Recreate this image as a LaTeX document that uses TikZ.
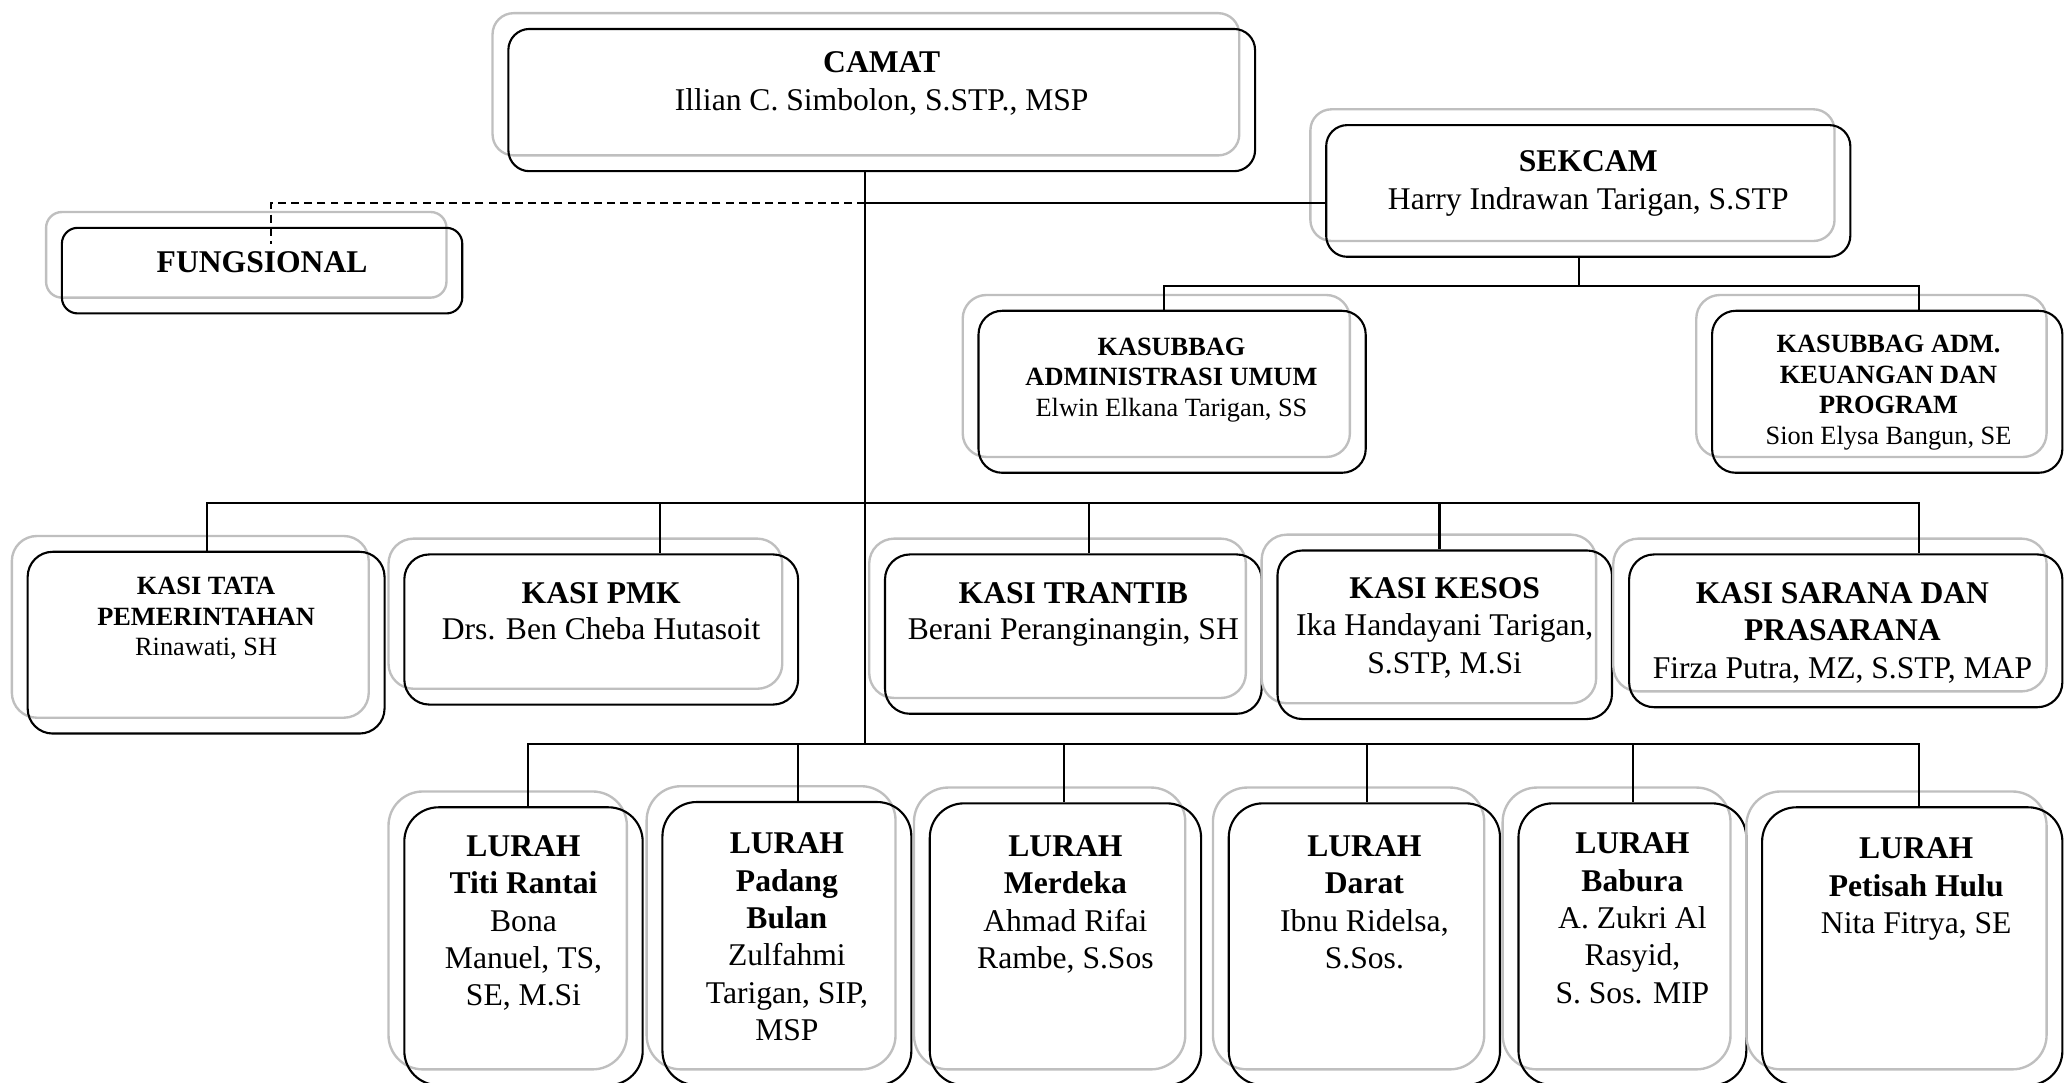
\documentclass[tikz,border=0pt]{standalone}
\usepackage{fontspec}
\setmainfont{Liberation Serif}
\usetikzlibrary{fit}
\tikzset{
  orgbox/.style={draw=black, line width=0.8pt, inner sep=0pt},
  shadebox/.style={draw=black!25, line width=0.9pt},
  conn/.style={draw=black, line width=0.8pt},
  dashconn/.style={draw=black, line width=0.8pt, dash pattern=on 3pt off 2pt},
  tbig/.style={anchor=north, align=center, inner sep=0pt, font=\fontsize{12}{14.2}\selectfont},
  tsmall/.style={anchor=north, align=center, inner sep=0pt, font=\fontsize{10}{11.6}\selectfont},
}
% name, x1, y1, x2, y2, corner radius
\newcommand\obox[6]{%
  \draw[shadebox, rounded corners=#6] ({#2-12},{#3-12}) rectangle ({#4-12},{#5-12});
  \node[orgbox, rounded corners=#6, fit={(#2,#3) (#4,#5)}] (#1) {};
}
\begin{document}
\begin{tikzpicture}[x=0.5pt, y=-0.5pt]
\useasboundingbox (0,0) rectangle (1568,822);
\clip (0,0) rectangle (1568,822);

% boxes
\obox{camat}{386}{22}{953}{130}{8pt}
\obox{sekcam}{1007}{95}{1405}{195}{8pt}
\obox{fung}{47}{173}{351}{238}{6pt}
\obox{kasub1}{743}{236}{1037}{359}{9pt}
\obox{kasub2}{1300}{236}{1566}{359}{9pt}
\obox{kasi1}{21}{419}{292}{557}{9.5pt}
\obox{kasi2}{307}{421}{606}{535}{9.5pt}
\obox{kasi3}{672}{421}{958}{542}{9.5pt}
\obox{kasi4}{970}{418}{1224}{546}{9.5pt}
\obox{kasi5}{1237}{421}{1566}{537}{9.5pt}
\obox{lur1}{307}{613}{488}{824}{13pt}
\obox{lur2}{503}{609}{692}{824}{13pt}
\obox{lur3}{706}{610}{912}{824}{13pt}
\obox{lur4}{933}{610}{1139}{824}{13pt}
\obox{lur5}{1153}{610}{1326}{824}{13pt}
\obox{lur6}{1338}{613}{1566}{824}{13pt}

% texts
\node[tbig, font=\fontsize{12}{14.5}\selectfont] (camat-t) at (669.5,39) {\textbf{CAMAT}\\Illian C. Simbolon, S.STP., MSP};
\node[tbig, font=\fontsize{12}{14.5}\selectfont] (sekcam-t) at (1206,114) {\textbf{SEKCAM}\\Harry Indrawan Tarigan, S.STP};
\node[tbig] (fung-t) at (199,191) {\textbf{FUNGSIONAL}};
\node[tsmall] (kasub1-t) at (889.5,256) {\textbf{KASUBBAG}\\\textbf{ADMINISTRASI UMUM}\\Elwin Elkana Tarigan, SS};
\node[tsmall] (kasub2-t) at (1434,254) {\textbf{KASUBBAG ADM.}\\\textbf{KEUANGAN DAN}\\\textbf{PROGRAM}\\Sion Elysa Bangun, SE};
\node[tsmall] (kasi1-t) at (156.5,438) {\textbf{KASI TATA}\\\textbf{PEMERINTAHAN}\\Rinawati, SH};
\node[tbig, font=\fontsize{12}{13.8}\selectfont] (kasi2-t) at (456.5,442) {\textbf{KASI PMK}\\Drs. Ben Cheba Hutasoit};
\node[tbig, font=\fontsize{12}{13.8}\selectfont] (kasi3-t) at (815,442) {\textbf{KASI TRANTIB}\\Berani Peranginangin, SH};
\node[tbig] (kasi4-t) at (1097,438) {\textbf{KASI KESOS}\\Ika Handayani Tarigan,\\S.STP, M.Si};
\node[tbig] (kasi5-t) at (1399,442) {\textbf{KASI SARANA DAN}\\\textbf{PRASARANA}\\Firza Putra, MZ, S.STP, MAP};
\node[tbig] (lur1-t) at (397.5,634) {\textbf{LURAH}\\\textbf{Titi Rantai}\\Bona\\Manuel, TS,\\SE, M.Si};
\node[tbig] (lur2-t) at (597.5,632) {\textbf{LURAH}\\\textbf{Padang}\\\textbf{Bulan}\\Zulfahmi\\Tarigan, SIP,\\MSP};
\node[tbig] (lur3-t) at (809,634) {\textbf{LURAH}\\\textbf{Merdeka}\\Ahmad Rifai\\Rambe, S.Sos};
\node[tbig] (lur4-t) at (1036,634) {\textbf{LURAH}\\\textbf{Darat}\\Ibnu Ridelsa,\\S.Sos.};
\node[tbig] (lur5-t) at (1239.5,632) {\textbf{LURAH}\\\textbf{Babura}\\A. Zukri Al\\Rasyid,\\S. Sos. MIP};
\node[tbig] (lur6-t) at (1455,636) {\textbf{LURAH}\\\textbf{Petisah Hulu}\\Nita Fitrya, SE};

% junctions
\coordinate (j1) at (657,154);
\coordinate (jl) at (657,565);
\coordinate (fd) at (206,185);
\coordinate (sb) at (1199,217);
\coordinate (kb1) at (884,217);
\coordinate (kb2) at (1457,217);
\coordinate (ka1) at (157,382);
\coordinate (ka2) at (501,382);
\coordinate (ka3) at (827,382);
\coordinate (ka4) at (1093,382);
\coordinate (ka5) at (1457,382);
\coordinate (la1) at (401,565);
\coordinate (la2) at (606,565);
\coordinate (la3) at (808,565);
\coordinate (la4) at (1038,565);
\coordinate (la5) at (1240,565);
\coordinate (la6) at (1457,565);

% connectors
\draw[conn] (camat.south -| jl) -- (jl);
\draw[conn] (j1) -- (j1 -| sekcam.west);
\draw[dashconn] (j1) -| (fd);
\draw[conn] (sekcam.south -| sb) -- (sb);
\draw[conn] (kasub1.north -| kb1) -- (kb1) -- (kb2) -- (kasub2.north -| kb2);
\draw[conn] (kasi1.north -| ka1) -- (ka1) -- (ka5) -- (kasi5.north -| ka5);
\draw[conn] (ka2) -- (kasi2.north -| ka2);
\draw[conn] (ka3) -- (kasi3.north -| ka3);
\draw[conn] (ka4) -- (kasi4.north -| ka4);
\draw[conn] (lur1.north -| la1) -- (la1) -- (la6) -- (lur6.north -| la6);
\draw[conn] (la2) -- (lur2.north -| la2);
\draw[conn] (la3) -- (lur3.north -| la3);
\draw[conn] (la4) -- (lur4.north -| la4);
\draw[conn] (la5) -- (lur5.north -| la5);
\end{tikzpicture}
\end{document}
